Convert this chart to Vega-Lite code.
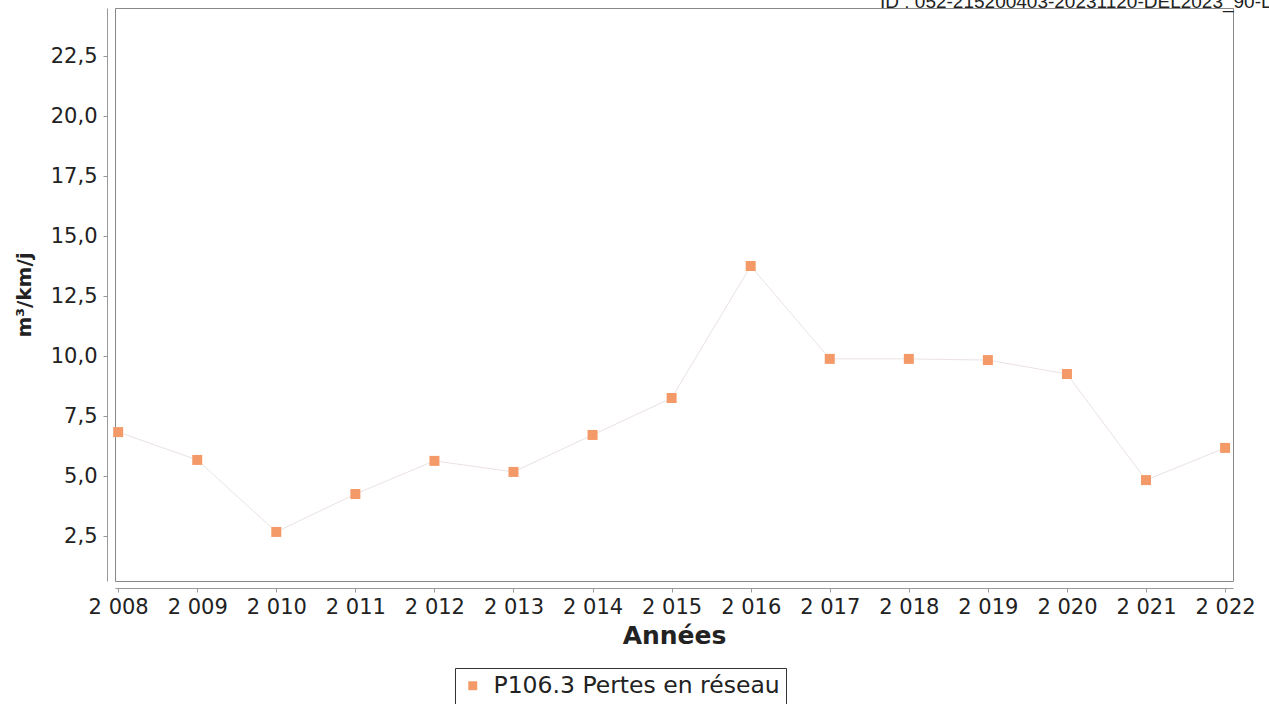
{
  "$schema": "https://vega.github.io/schema/vega-lite/v6.json",
  "autosize": "none",
  "width": 1118,
  "height": 573,
  "padding": {"left": 115, "top": 8, "right": 36, "bottom": 123},
  "background": "white",
  "title": {
    "text": "ID : 052-215200403-20231120-DEL2023_90-D",
    "anchor": "start",
    "frame": "group",
    "dx": 765,
    "dy": 19,
    "offset": 0,
    "baseline": "alphabetic",
    "font": "Liberation Sans",
    "fontSize": 19,
    "fontWeight": "normal",
    "color": "#222222"
  },
  "data": {
    "values": [
      {"annee": 2008, "valeur": 6.83, "serie": "P106.3 Pertes en réseau"},
      {"annee": 2009, "valeur": 5.67, "serie": "P106.3 Pertes en réseau"},
      {"annee": 2010, "valeur": 2.67, "serie": "P106.3 Pertes en réseau"},
      {"annee": 2011, "valeur": 4.25, "serie": "P106.3 Pertes en réseau"},
      {"annee": 2012, "valeur": 5.63, "serie": "P106.3 Pertes en réseau"},
      {"annee": 2013, "valeur": 5.17, "serie": "P106.3 Pertes en réseau"},
      {"annee": 2014, "valeur": 6.71, "serie": "P106.3 Pertes en réseau"},
      {"annee": 2015, "valeur": 8.25, "serie": "P106.3 Pertes en réseau"},
      {"annee": 2016, "valeur": 13.75, "serie": "P106.3 Pertes en réseau"},
      {"annee": 2017, "valeur": 9.88, "serie": "P106.3 Pertes en réseau"},
      {"annee": 2018, "valeur": 9.88, "serie": "P106.3 Pertes en réseau"},
      {"annee": 2019, "valeur": 9.83, "serie": "P106.3 Pertes en réseau"},
      {"annee": 2020, "valeur": 9.25, "serie": "P106.3 Pertes en réseau"},
      {"annee": 2021, "valeur": 4.83, "serie": "P106.3 Pertes en réseau"},
      {"annee": 2022, "valeur": 6.17, "serie": "P106.3 Pertes en réseau"}
    ]
  },
  "encoding": {
    "x": {
      "field": "annee",
      "type": "quantitative",
      "scale": {"domain": [2007.96, 2022.1], "nice": false, "zero": false},
      "axis": {
        "title": "Années",
        "values": [2008, 2009, 2010, 2011, 2012, 2013, 2014, 2015, 2016, 2017, 2018, 2019, 2020, 2021, 2022],
        "labelExpr": "replace(format(datum.value, ',d'), ',', ' ')",
        "offset": 7,
        "grid": false,
        "domainColor": "#999999",
        "tickColor": "#999999",
        "tickSize": 4,
        "labelPadding": 4,
        "labelFont": "DejaVu Sans",
        "labelFontSize": 21,
        "labelColor": "#222222",
        "labelFlush": false,
        "labelOverlap": false,
        "titleFont": "DejaVu Sans",
        "titleFontSize": 25,
        "titleFontWeight": "bold",
        "titleColor": "#222222",
        "titlePadding": 6
      }
    },
    "y": {
      "field": "valeur",
      "type": "quantitative",
      "scale": {"domain": [0.625, 24.5], "nice": false, "zero": false},
      "axis": {
        "title": "m³/km/j",
        "values": [2.5, 5, 7.5, 10, 12.5, 15, 17.5, 20, 22.5],
        "labelExpr": "replace(format(datum.value, '.1f'), '.', ',')",
        "offset": 8,
        "grid": false,
        "domainColor": "#999999",
        "tickColor": "#999999",
        "tickSize": 4,
        "labelPadding": 6,
        "labelFont": "DejaVu Sans",
        "labelFontSize": 21,
        "labelColor": "#222222",
        "titleFont": "DejaVu Sans",
        "titleFontSize": 20,
        "titleFontWeight": "bold",
        "titleColor": "#222222",
        "titlePadding": 16
      }
    }
  },
  "layer": [
    {
      "mark": {"type": "line", "color": "#ebe2e2", "strokeWidth": 1}
    },
    {
      "mark": {"type": "point", "shape": "square", "filled": true, "size": 100, "opacity": 1},
      "encoding": {
        "color": {
          "field": "serie",
          "type": "nominal",
          "scale": {"range": ["#f39a68"]},
          "legend": {
            "title": null,
            "orient": "none",
            "legendX": 340,
            "legendY": 660,
            "strokeColor": "#333333",
            "padding": 6,
            "symbolType": "square",
            "symbolSize": 80,
            "symbolOffset": 0,
            "symbolFillColor": "#f08a6a",
            "labelOffset": 9,
            "labelFont": "DejaVu Sans",
            "labelFontSize": 23.5,
            "labelColor": "#222222",
            "labelLimit": 500
          }
        }
      }
    }
  ],
  "config": {
    "view": {"stroke": "#888888", "strokeWidth": 1}
  }
}
